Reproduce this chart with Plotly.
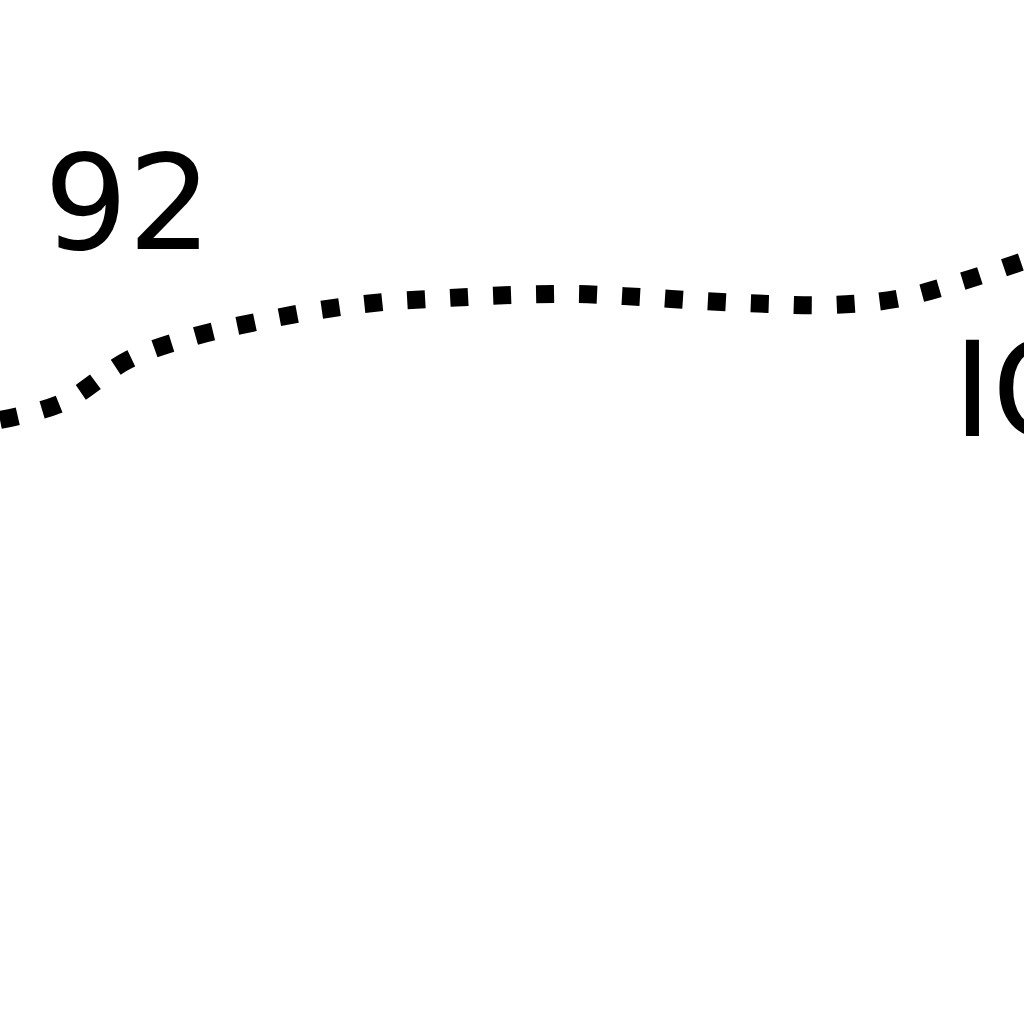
import plotly.graph_objects as go

# Data read from the (zoomed) picture
x_vals = [0, 1, 2, 3, 4, 5, 6, 7, 8, 9, 10, 11, 12, 13, 14, 15, 16]
y_vals = [60.4, 62.2, 66.4, 68.7, 70.2, 71.4, 72.2, 72.6, 72.9, 73.0, 72.7, 72.3, 72.0, 71.9, 72.5, 74.2, 76.3]
labels = ["92", "IO"]
label_x = [0.65, 14.86]
label_y = [82.1, 63.4]

fig = go.Figure()
fig.add_trace(go.Scatter(
    x=x_vals, y=y_vals, mode="lines",
    line=dict(color="black", width=18, dash="18px,25px", shape="spline", smoothing=1.0),
    hoverinfo="skip", showlegend=False,
))

for t, lx, ly in zip(labels, label_x, label_y):
    fig.add_annotation(
        x=lx, y=ly, xref="x", yref="y", text=t, showarrow=False,
        xanchor="left", yanchor="middle",
        font=dict(family="DejaVu Sans", size=132, color="black"),
    )

fig.update_layout(
    width=1024, height=1024,
    margin=dict(l=0, r=0, t=0, b=0),
    paper_bgcolor="white", plot_bgcolor="white",
    xaxis=dict(range=[0, 16], visible=False),
    yaxis=dict(range=[0, 102.4], visible=False),
    showlegend=False,
)

fig.write_html(
    "out.html",
    config={"displayModeBar": False},
    post_script="document.body.style.margin='0';document.body.style.overflow='hidden';",
)
